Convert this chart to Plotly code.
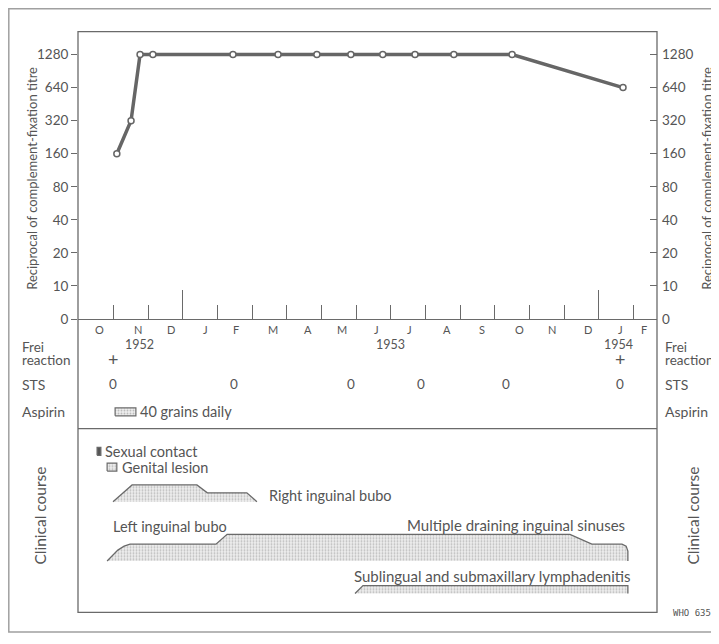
import numpy as np
import plotly.graph_objects as go

# The page body adds an 8 px margin, so the figure is 8 px smaller and all
# positions below are given in page pixels and shifted by OFF.
OFF = 8
W, H = 719 - OFF, 644 - OFF

# ---------------- data (x in months counted from 1 Oct 1952) ----------------
titre_month = [1.10, 1.51, 1.77, 2.14, 4.45, 5.75, 6.87, 7.85, 8.77, 9.70, 10.82, 12.50, 15.70]
titre_value = [160, 320, 1280, 1280, 1280, 1280, 1280, 1280, 1280, 1280, 1280, 1280, 640]
titre_ticks = [0, 10, 20, 40, 80, 160, 320, 640, 1280]
titre_tick_labels = ["0", "10", "20", "40", "80", "160", "320", "640", "1280"]

month_labels = ["O", "N", "D", "J", "F", "M", "A", "M", "J", "J", "A", "S", "O", "N", "D", "J", "F"]
month_label_pos = [0.61, 1.72, 2.65, 3.66, 4.55, 5.60, 6.62, 7.59, 8.60, 9.55,
                   10.62, 11.63, 12.70, 13.65, 14.69, 15.64, 16.30]
month_boundaries = list(range(1, 17))
year_boundaries = [3, 15]
year_labels = ["1952", "1953", "1954"]
year_label_pos = [1.74, 8.98, 15.56]

frei_month = [0.99, 15.60]
frei_result = ["+", "+"]
sts_month = [0.99, 4.48, 7.85, 9.87, 12.33, 15.60]
sts_result = ["0", "0", "0", "0", "0", "0"]
aspirin_month = [1.05, 1.65]
aspirin_label = "40 grains daily"

sexual_contact_month = [0.53, 0.64]
genital_lesion_month = [0.82, 1.10]
right_bubo_month = [0.99, 1.54, 3.41, 3.71, 4.85, 5.14]
right_bubo_size = [0, 17, 17, 9, 9, 0]
left_bubo_month = [0.82, 0.96, 1.13, 1.31, 1.48, 3.96, 4.28, 14.17, 14.80, 15.67, 15.79, 15.84, 15.84]
left_bubo_size = [0, 5, 11, 15, 17, 17, 27, 27, 17, 17, 15, 10, 0]
sublingual_month = [7.97, 8.20, 15.84, 15.84]
sublingual_size = [0, 8, 8, 0]

# ---------------- layout helpers ----------------
FONT = "Lato"
TXT = "#555555"
LINE = "#6a6a6a"


def px(x):
    return (x - OFF) / W


def py(y):
    return 1 - (y - OFF) / H


X_LEFT, X_RIGHT = 78, 657
Y_TOP, Y_AXIS, Y_SEP, Y_BOTTOM = 32, 323, 434, 620
XRANGE = [-0.02, 16.68]
zero_pos = titre_ticks[1] / 2
tick_pos = [t if t > 0 else zero_pos for t in titre_ticks]
YRANGE = [np.log10(zero_pos), 3.315]

# clinical panel levels (pixels above the box bottom)
RIGHT_BASE, LEFT_BASE, SUB_BASE = 112, 52, 19
SEX_LEVEL, LESION_LEVEL = [159, 167], [143, 151]
ASPIRIN_LEVEL = [13, 21]

hatch = dict(shape=".", size=3, solidity=0.3, fgcolor="#8a8a8a", bgcolor="#ededed")

fig = go.Figure()

fig.add_trace(go.Scatter(
    x=titre_month, y=titre_value, mode="lines+markers",
    line=dict(color="#666666", width=3.5),
    marker=dict(symbol="circle", size=6, color="white", line=dict(color="#666666", width=1.5)),
    xaxis="x", yaxis="y", hoverinfo="skip", showlegend=False))
fig.add_trace(go.Scatter(x=titre_month, y=titre_value, mode="lines", opacity=0,
                         xaxis="x2", yaxis="y2", hoverinfo="skip", showlegend=False))


def area(months, sizes, base, name):
    return go.Scatter(x=months, y=[base + s for s in sizes], mode="lines", fill="toself",
                      line=dict(color="#6a6a6a", width=1.3), fillcolor="#e6e6e6",
                      fillpattern=hatch, xaxis="x", yaxis="y3",
                      hoverinfo="skip", showlegend=False, name=name)


def rect(months, levels, yaxis, filled):
    xs = [months[0], months[1], months[1], months[0], months[0]]
    ys = [levels[0], levels[0], levels[1], levels[1], levels[0]]
    kw = dict(fillcolor="#555555") if filled else dict(fillcolor="#e6e6e6", fillpattern=hatch)
    return go.Scatter(x=xs, y=ys, mode="lines", fill="toself",
                      line=dict(color="#6a6a6a", width=1.2), xaxis="x", yaxis=yaxis,
                      hoverinfo="skip", showlegend=False, **kw)


fig.add_trace(area(right_bubo_month, right_bubo_size, RIGHT_BASE, "Right inguinal bubo"))
fig.add_trace(area(left_bubo_month, left_bubo_size, LEFT_BASE, "Left inguinal bubo"))
fig.add_trace(area(sublingual_month, sublingual_size, SUB_BASE, "Sublingual"))
fig.add_trace(rect(sexual_contact_month, SEX_LEVEL, "y3", True))
fig.add_trace(rect(genital_lesion_month, LESION_LEVEL, "y3", False))
fig.add_trace(rect(aspirin_month, ASPIRIN_LEVEL, "y4", False))

ann = []


def text(x, y, s, size=14, xref="paper", xanchor="center", angle=0, family=FONT, color=TXT):
    ann.append(dict(x=x, y=y, xref=xref, yref="paper", text=s, showarrow=False,
                    xanchor=xanchor, yanchor="middle", textangle=angle,
                    font=dict(family=family, size=size, color=color)))


# axis titles
text(px(32), py(181), "Reciprocal of complement-fixation titre", 13, angle=-90)
text(px(707), py(181), "Reciprocal of complement-fixation titre", 13, angle=-90)

# months & years
for lab, pos in zip(month_labels, month_label_pos):
    text(pos, py(334), lab, 11, xref="x")
for lab, pos in zip(year_labels, year_label_pos):
    text(pos, py(349), lab, 12.5, xref="x")

# row labels
for xx in [px(20), px(663)]:
    text(xx, py(351), "Frei", 13.5, xanchor="left")
    text(xx, py(364), "reaction", 13.5, xanchor="left")
    text(xx, py(389), "STS", 14, xanchor="left")
    text(xx, py(417), "Aspirin", 14, xanchor="left")
text(px(40), py(522), "Clinical course", 15.5, angle=-90)
text(px(693), py(522), "Clinical course", 15.5, angle=-90)

for m, r in zip(frei_month, frei_result):
    text(m, py(363), r, 18, xref="x")
for m, r in zip(sts_month, sts_result):
    text(m, py(389), r, 13.5, xref="x")
text(aspirin_month[1] + 0.06, py(417), aspirin_label, 14.5, xref="x", xanchor="left")

# clinical course labels
text(sexual_contact_month[1] + 0.07, py(457), "Sexual contact", 14.5, xref="x", xanchor="left")
text(genital_lesion_month[1] + 0.08, py(473), "Genital lesion", 14.5, xref="x", xanchor="left")
text(right_bubo_month[-1] + 0.28, py(502), "Right inguinal bubo", 14.5, xref="x", xanchor="left")
text(left_bubo_month[0] + 0.11, py(533), "Left inguinal bubo", 14.5, xref="x", xanchor="left")
text(left_bubo_month[-1] - 0.03, py(532), "Multiple draining inguinal sinuses", 15, xref="x", xanchor="right")
text(sublingual_month[-1] + 0.15, py(583), "Sublingual and submaxillary lymphadenitis", 15, xref="x", xanchor="right")

text(px(671), py(621), "WHO 6356", 9, xanchor="left", family="DejaVu Sans Mono")

shapes = [
    dict(type="rect", xref="paper", yref="paper", x0=px(X_LEFT), x1=px(X_RIGHT),
         y0=py(Y_BOTTOM), y1=py(Y_TOP), line=dict(color=LINE, width=1.3)),
    dict(type="line", xref="paper", yref="paper", x0=px(X_LEFT), x1=px(X_RIGHT),
         y0=py(Y_SEP), y1=py(Y_SEP), line=dict(color=LINE, width=1.3)),
    dict(type="rect", xref="paper", yref="paper", x0=px(OFF + 0.8), x1=px(740),
         y0=py(640), y1=py(OFF + 0.8), line=dict(color="#a0a0a0", width=1.5)),
]

xdom = [px(X_LEFT), px(X_RIGHT)]
ydom = [py(Y_AXIS), py(Y_TOP)]
tickfont = dict(family=FONT, size=13.5, color=TXT)

fig.update_layout(
    width=W, height=H, autosize=False,
    margin=dict(l=0, r=0, t=0, b=0),
    paper_bgcolor="white", plot_bgcolor="rgba(0,0,0,0)",
    showlegend=False,
    xaxis=dict(domain=xdom, range=XRANGE, anchor="y", tickvals=month_boundaries,
               ticks="inside", ticklen=14, tickwidth=1.3, tickcolor=LINE,
               showticklabels=False, showline=True, linecolor=LINE, linewidth=1.3,
               showgrid=False, zeroline=False, fixedrange=True),
    xaxis2=dict(domain=xdom, range=XRANGE, anchor="y", overlaying="x", side="bottom",
                tickvals=year_boundaries, ticks="inside", ticklen=29, tickwidth=1.3,
                tickcolor=LINE, showticklabels=False, showline=False,
                showgrid=False, zeroline=False),
    yaxis=dict(domain=ydom, type="log", range=YRANGE, anchor="x",
               tickvals=tick_pos, ticktext=titre_tick_labels, ticks="outside",
               ticklen=6, tickwidth=1.2, tickcolor=LINE, tickfont=tickfont,
               showline=False, showgrid=False, zeroline=False),
    yaxis2=dict(domain=ydom, type="log", range=YRANGE, anchor="x2", overlaying="y",
                side="right", tickvals=tick_pos, ticktext=titre_tick_labels,
                ticks="inside", ticklen=7, tickwidth=1.2, tickcolor=LINE,
                tickfont=tickfont, ticklabelstandoff=4,
                showline=False, showgrid=False, zeroline=False),
    yaxis3=dict(domain=[py(Y_BOTTOM), py(Y_SEP)], range=[0, Y_BOTTOM - Y_SEP],
                anchor="x", visible=False, fixedrange=True),
    yaxis4=dict(domain=[py(Y_SEP), py(Y_AXIS)], range=[0, Y_SEP - Y_AXIS],
                anchor="x", visible=False, fixedrange=True),
    annotations=ann, shapes=shapes,
)

fig.write_html("out.html")
